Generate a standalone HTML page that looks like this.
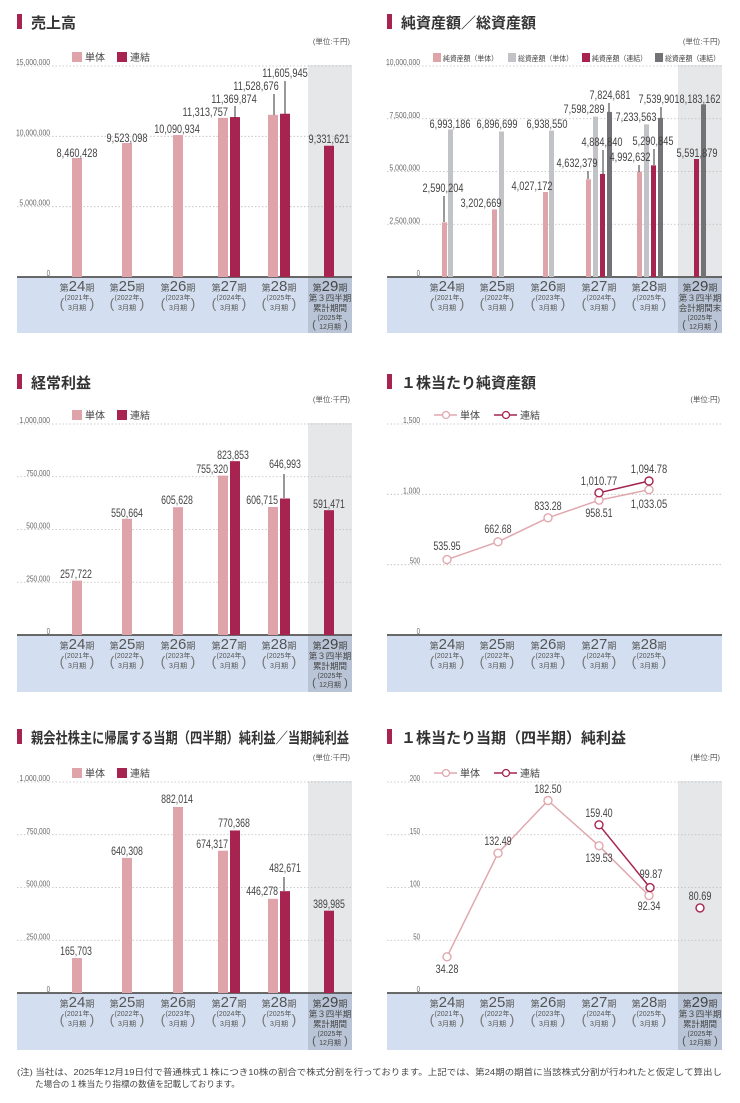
<!DOCTYPE html>
<html><head><meta charset="utf-8"><style>
html,body{margin:0;padding:0;background:#fff;}
svg{display:block;font-family:"Liberation Sans","Noto Sans CJK JP",sans-serif;}
</style></head><body>
<svg id="s" width="740" height="1103" viewBox="0 0 740 1103" xmlns="http://www.w3.org/2000/svg"></svg>
<script>
var o=[];
var PK="#dfa3aa",DR="#a6244f",LG="#c2c3c6",DG="#727376",TX="#444";
function t(x,y,s,sz,anc,col,extra){o.push('<text x="'+x+'" y="'+y+'" font-size="'+sz+'" text-anchor="'+(anc||'start')+'" fill="'+(col||TX)+'" '+(extra||'')+'>'+s+'</text>');}
function tl(n,w){return 'textLength="'+(n*w).toFixed(1)+'" lengthAdjust="spacingAndGlyphs"';}
function r(x,y,w,h,c){o.push('<rect x="'+x+'" y="'+y+'" width="'+w+'" height="'+h+'" fill="'+c+'"/>');}
function l(x1,y1,x2,y2,c,w,extra){o.push('<line x1="'+x1+'" y1="'+y1+'" x2="'+x2+'" y2="'+y2+'" stroke="'+c+'" stroke-width="'+w+'" '+(extra||'')+'/>');}
function panel(p){
 var X=p.x, x0=X+17, x1=X+352;
 r(x0,p.yB,335,p.yE-p.yB,"#d3dff0");
 if(p.hl){r(X+308,p.yT-1,44,p.yB-p.yT+1,"#e6e7e9");r(X+308,p.yB,44,p.yE-p.yB,"#b9c5d7");}
 r(X+17,p.ty-14,5,15,DR);
 t(X+31,p.ty,p.title,15,'start','#333','font-weight="bold" '+(p.tl?'textLength="'+p.tl+'" lengthAdjust="spacingAndGlyphs"':''));
 t(X+350,p.yT-22,p.unit,7.5,'end','#555');
 p.grid.forEach(function(g){var y=p.yB-g[0]*p.k;
  if(g[0]>0) l(x0,y,x1,y,"#bdbdbd",0.8,'stroke-dasharray="1.5,2"');
  t(X+50,y-1,g[1],8,'end','#666',tl(g[1].length,3.4));});
 l(x0,p.yB,x1,p.yB,"#555",1.8);
 var cx=[77,127,178,229,279];
 var yrs=["2021","2022","2023","2024","2025"];
 for(var i=0;i<5;i++){var c=X+cx[i],b=p.yB;
  o.push('<text x="'+c+'" y="'+(b+14)+'" text-anchor="middle" fill="#555"><tspan font-size="9">第</tspan><tspan font-size="15">'+(24+i)+'</tspan><tspan font-size="9">期</tspan></text>');
  t(c,b+23,'('+yrs[i]+'年',7,'middle','#555');
  t(c,b+33,'3月期',7,'middle','#555');
  t(c-15,b+31,'(',14,'middle','#777');
  t(c+15,b+31,')',14,'middle','#777');
 }
 if(p.hl){var c=X+330,b=p.yB;
  o.push('<text x="'+c+'" y="'+(b+14)+'" text-anchor="middle" fill="#444"><tspan font-size="9">第</tspan><tspan font-size="15">29</tspan><tspan font-size="9">期</tspan></text>');
  t(c,b+24,'第３四半期',8.5,'middle','#444');
  t(c,b+34,p.l29||'累計期間',8.5,'middle','#444');
  t(c,b+43,'(2025年',7,'middle','#444');
  t(c,b+52,'12月期',7,'middle','#444');
  t(c-16,b+51,'(',11,'middle','#555');t(c+16,b+51,')',11,'middle','#555');
 }
}
function bars(p,list){list.forEach(function(b){var h=b[2]*p.k;r(p.x+b[0],p.yB-h,b[1],h,b[3]);});}
function labs(p,list){list.forEach(function(a){t(p.x+a[1],a[2],a[0],11.5,a[3]||'middle','#444',tl(a[0].length,4.55));});}
function leads(p,list){list.forEach(function(a){l(p.x+a[0],a[1],p.x+a[0],a[2],"#333",1);});}
function leg2(p,y){r(p.x+72,y-5,10,10,PK);t(p.x+85,y+4,'単体',10,'start','#444');r(p.x+117,y-5,10,10,DR);t(p.x+130,y+4,'連結',10,'start','#444');}
function legL(p,y){var X=p.x;l(X+64,y,X+87,y,"#e0a8ae",1.5);o.push('<circle cx="'+(X+76)+'" cy="'+y+'" r="3.5" fill="#fff" stroke="#e0a8ae" stroke-width="1.3"/>');t(X+90,y+4,'単体',10,'start','#444');
 l(X+124,y,X+147,y,"#a6244f",1.5);o.push('<circle cx="'+(X+136)+'" cy="'+y+'" r="3.5" fill="#fff" stroke="#a6244f" stroke-width="1.3"/>');t(X+150,y+4,'連結',10,'start','#444');}
function line(p,pts,col,conn){var d=pts.map(function(q){return (p.x+q[0])+','+(p.yB-q[1]*p.k).toFixed(1);}).join(' ');
 if(conn)o.push('<polyline points="'+d+'" fill="none" stroke="'+col+'" stroke-width="1.5"/>');
 pts.forEach(function(q){o.push('<circle cx="'+(p.x+q[0])+'" cy="'+(p.yB-q[1]*p.k).toFixed(1)+'" r="4" fill="#fff" stroke="'+col+'" stroke-width="1.4"/>');});}

var A={x:0,ty:28,yT:66,yB:277,yE:333,k:211/15e6,hl:1,title:'売上高',unit:'(単位:千円)',grid:[[0,'0'],[5e6,'5,000,000'],[10e6,'10,000,000'],[15e6,'15,000,000']]};
panel(A);leg2(A,57);
bars(A,[[72,10,8460428,PK],[122,10,9523098,PK],[173,10,10090934,PK],[218,10,11313757,PK],[230,10,11369874,DR],[268,10,11528676,PK],[280,10,11605945,DR],[324,10,9331621,DR]]);
leads(A,[[235,106,118],[274,94,115],[285,81,114]]);
labs(A,[['8,460,428',77,157],['9,523,098',127,142],['10,090,934',177,133],['11,313,757',228,116,'end'],['11,369,874',234,103],['11,528,676',256,90],['11,605,945',285,77],['9,331,621',329,143]]);

var B={x:370,ty:28,yT:66,yB:277,yE:333,k:211/10e6,hl:1,l29:'会計期間末',title:'純資産額／総資産額',unit:'(単位:千円)',grid:[[0,'0'],[2.5e6,'2,500,000'],[5e6,'5,000,000'],[7.5e6,'7,500,000'],[10e6,'10,000,000']]};
panel(B);
[[63,PK,'純資産額（単体）'],[138,LG,'総資産額（単体）'],[212,DR,'純資産額（連結）'],[285,DG,'総資産額（連結）']].forEach(function(g){r(370+g[0],53,8,9,g[1]);t(370+g[0]+10,61,g[2],7.2,'start','#444','textLength="55" lengthAdjust="spacingAndGlyphs"');});
bars(B,[[72,5,2590204,PK],[78,5,6993186,LG],[122,5,3202669,PK],[129,5,6896699,LG],[173,5,4027172,PK],[179,5,6938550,LG],
[216,5,4632379,PK],[223,5,7598289,LG],[230,5,4884840,DR],[237,5,7824681,DG],
[267,5,4992632,PK],[274,5,7233563,LG],[281,5,5290845,DR],[288,5,7539901,DG],[324,5,5591879,DR],[331,5,8183162,DG]]);
leads(B,[[74,196,222],[218,171,179],[233,150,174],[239,103,112],[269,165,172],[284,149,165],[291,107,118]]);
labs(B,[['6,993,186',80,128],['2,590,204',73,192],['6,896,699',127,128],['3,202,669',111,207],['6,938,550',177,128],['4,027,172',162,190],
['7,598,289',214,113],['4,632,379',207,167],['4,884,840',232,146],['7,824,681',240,99],['7,233,563',266,121],['4,992,632',260,161],['5,290,845',283,145],['7,539,901',289,103],['8,183,162',330,103],['5,591,879',327,157]]);

var C={x:0,ty:388,yT:424,yB:635,yE:692,k:211/1e6,hl:1,title:'経常利益',unit:'(単位:千円)',grid:[[0,'0'],[250000,'250,000'],[500000,'500,000'],[750000,'750,000'],[1e6,'1,000,000']]};
panel(C);leg2(C,415);
bars(C,[[72,10,257722,PK],[122,10,550664,PK],[173,10,605628,PK],[218,10,755320,PK],[230,10,823853,DR],[268,10,606715,PK],[280,10,646993,DR],[324,10,591471,DR]]);
leads(C,[[284,474,498]]);
labs(C,[['257,722',76,578],['550,664',127,517],['605,628',177,504],['755,320',228,473,'end'],['823,853',233,459],['606,715',278,504,'end'],['646,993',285,468],['591,471',329,508]]);

var D={x:370,ty:388,yT:424,yB:635,yE:692,k:211/1500,hl:0,title:'１株当たり純資産額',unit:'(単位:円)',grid:[[0,'0'],[500,'500'],[1000,'1,000'],[1500,'1,500']]};
panel(D);legL(D,415);
line(D,[[77,535.95],[128,662.68],[178,833.28],[229,958.51],[279,1033.05]],"#e0a8ae",1);
line(D,[[229,1010.77],[279,1094.78]],"#a6244f",1);
labs(D,[['535.95',77,550],['662.68',128,533],['833.28',178,510],['958.51',229,517],['1,033.05',279,508],['1,010.77',229,485],['1,094.78',279,473]]);

var E={x:0,ty:743,yT:782,yB:993,yE:1050,k:211/1e6,hl:1,tl:318,title:'親会社株主に帰属する当期（四半期）純利益／当期純利益',unit:'(単位:千円)',grid:[[0,'0'],[250000,'250,000'],[500000,'500,000'],[750000,'750,000'],[1e6,'1,000,000']]};
panel(E);leg2(E,773);
bars(E,[[72,10,165703,PK],[122,10,640308,PK],[173,10,882014,PK],[218,10,674317,PK],[230,10,770368,DR],[268,10,446278,PK],[280,10,482671,DR],[324,10,389985,DR]]);
leads(E,[[284,877,891]]);
labs(E,[['165,703',76,955],['640,308',127,855],['882,014',177,803],['674,317',228,848,'end'],['770,368',234,827],['446,278',278,895,'end'],['482,671',285,872],['389,985',329,908]]);

var F={x:370,ty:743,yT:782,yB:993,yE:1050,k:211/200,hl:1,title:'１株当たり当期（四半期）純利益',unit:'(単位:円)',grid:[[0,'0'],[50,'50'],[100,'100'],[150,'150'],[200,'200']]};
panel(F);legL(F,773);
line(F,[[77,34.28],[128,132.49],[178,182.5],[229,139.53],[279,92.34]],"#e0a8ae",1);
line(F,[[229,159.4],[280,99.87]],"#a6244f",1);
line(F,[[330,80.69]],"#a6244f",0);
labs(F,[['34.28',77,973],['132.49',128,845],['182.50',178,793],['159.40',229,817],['139.53',229,862],['99.87',281,878],['92.34',279,910],['80.69',330,900]]);

t(17,1075,'(注) 当社は、2025年12月19日付で普通株式１株につき10株の割合で株式分割を行っております。上記では、第24期の期首に当該株式分割が行われたと仮定して算出し',8.6,'start','#444','textLength="705" lengthAdjust="spacingAndGlyphs"');
t(35,1087,'た場合の１株当たり指標の数値を記載しております。',8.6,'start','#444');

document.getElementById('s').innerHTML=o.join('');
</script>
</body></html>
